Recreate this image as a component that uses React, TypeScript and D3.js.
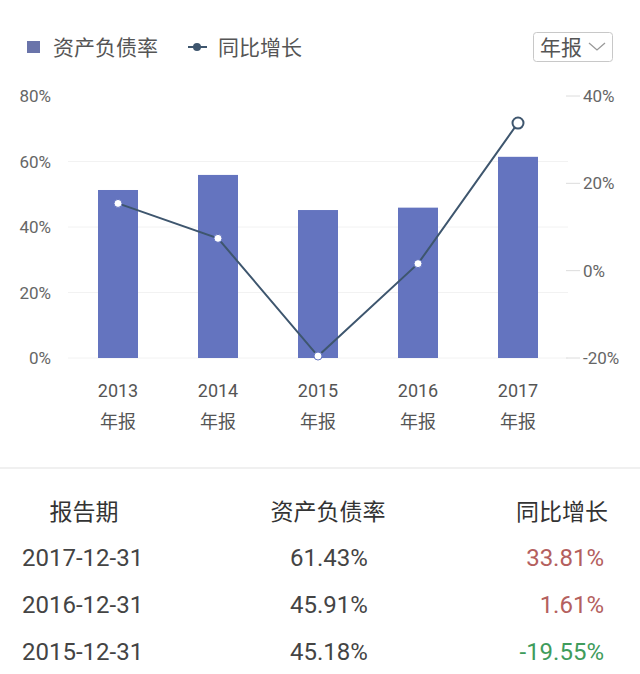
import React from "react";
import { scaleBand, scaleLinear, line } from "d3";

// chart data
const years = ["2013", "2014", "2015", "2016", "2017"];
const debtRatio = [51.3, 55.9, 45.18, 45.91, 61.43];
const yoyGrowth = [15.4, 7.4, -19.55, 1.61, 33.81];
const leftTicks = [0, 20, 40, 60, 80];
const rightTicks = [-20, 0, 20, 40];

// table rows
const tableDates = ["2017-12-31", "2016-12-31", "2015-12-31"];
const tableRatio = ["61.43%", "45.91%", "45.18%"];
const tableGrowth = ["33.81%", "1.61%", "-19.55%"];

const W = 640;
const H = 674;
const FONT = "Roboto, 'Noto Sans CJK SC', sans-serif";
const BAR = "#6474bf";
const LINE = "#3e566e";

export default function App() {
  const x = scaleBand<string>().domain(years).range([68, 568]).paddingInner(0.6).paddingOuter(0.3);
  const yL = scaleLinear().domain([0, 80]).range([358, 96]);
  const yR = scaleLinear().domain([-20, 40]).range([358, 96]);
  const cx = (i: number) => (x(years[i]) as number) + x.bandwidth() / 2;

  const path = line<number>()
    .x((_, i) => cx(i))
    .y((d) => yR(d))(yoyGrowth) as string;

  const growthColor = (s: string) => (s.startsWith("-") ? "#3f9c5c" : "#b4605e");

  return (
    <svg
      width={W}
      height={H}
      style={{ position: "absolute", left: 0, top: 0, background: "#fff" }}
      fontFamily={FONT}
    >
      {/* legend */}
      <rect x={27} y={41} width={13} height={12} fill="#6a74aa" />
      <text x={53} y={55} fontSize={21} fill="#555">资产负债率</text>
      <line x1={188} y1={47} x2={207} y2={47} stroke={LINE} strokeWidth={2} />
      <circle cx={197} cy={47} r={4} fill={LINE} />
      <text x={218} y={55} fontSize={21} fill="#555">同比增长</text>

      {/* dropdown */}
      <rect x={533.5} y={32.5} width={79} height={29} rx={3} fill="#fff" stroke="#c8c8c8" />
      <text x={540} y={55} fontSize={21} fill="#555">年报</text>
      <path d="M589,43 L597,50 L605,43" fill="none" stroke="#999" strokeWidth={1.3} />

      {/* gridlines */}
      {leftTicks.slice(0, 4).map((t) => (
        <line key={t} x1={68} x2={568} y1={yL(t)} y2={yL(t)} stroke="#f2f2f2" strokeWidth={1} />
      ))}

      {/* left axis */}
      {leftTicks.map((t) => (
        <text key={t} x={51} y={yL(t) + 6} fontSize={17} fill="#666" textAnchor="end">
          {t}%
        </text>
      ))}

      {/* right axis */}
      {rightTicks.map((t) => (
        <g key={t}>
          <line x1={566} x2={580} y1={yR(t)} y2={yR(t)} stroke="#dcdcdc" strokeWidth={1} />
          <text x={583} y={yR(t) + 6} fontSize={17} fill="#666">
            {t}%
          </text>
        </g>
      ))}

      {/* bars */}
      {debtRatio.map((v, i) => (
        <rect
          key={years[i]}
          x={x(years[i])}
          y={yL(v)}
          width={x.bandwidth()}
          height={yL(0) - yL(v)}
          fill={BAR}
        />
      ))}

      {/* growth line */}
      <path d={path} fill="none" stroke={LINE} strokeWidth={2} />
      {yoyGrowth.map((v, i) => (
        <circle
          key={years[i]}
          cx={cx(i)}
          cy={yR(v)}
          r={i === yoyGrowth.length - 1 ? 5.5 : 4}
          fill="#fff"
          stroke={i === yoyGrowth.length - 1 ? LINE : BAR}
          strokeWidth={i === yoyGrowth.length - 1 ? 2 : 1}
        />
      ))}

      {/* x labels */}
      {years.map((yr, i) => (
        <g key={yr}>
          <text x={cx(i)} y={397} fontSize={18} fill="#555" textAnchor="middle">{yr}</text>
          <text x={cx(i)} y={428} fontSize={18} fill="#555" textAnchor="middle">年报</text>
        </g>
      ))}

      {/* divider */}
      <line x1={0} x2={W} y1={468} y2={468} stroke="#f0f0f0" strokeWidth={2} />

      {/* table */}
      <text x={84} y={520} fontSize={23} fill="#333" textAnchor="middle">报告期</text>
      <text x={328} y={520} fontSize={23} fill="#333" textAnchor="middle">资产负债率</text>
      <text x={608} y={520} fontSize={23} fill="#333" textAnchor="end">同比增长</text>
      {tableDates.map((d, i) => {
        const ty = 566 + i * 47;
        return (
          <g key={d}>
            <text x={22} y={ty} fontSize={24} fill="#444">{d}</text>
            <text x={329} y={ty} fontSize={24} fill="#444" textAnchor="middle">{tableRatio[i]}</text>
            <text x={604} y={ty} fontSize={24} fill={growthColor(tableGrowth[i])} textAnchor="end">
              {tableGrowth[i]}
            </text>
          </g>
        );
      })}
    </svg>
  );
}
